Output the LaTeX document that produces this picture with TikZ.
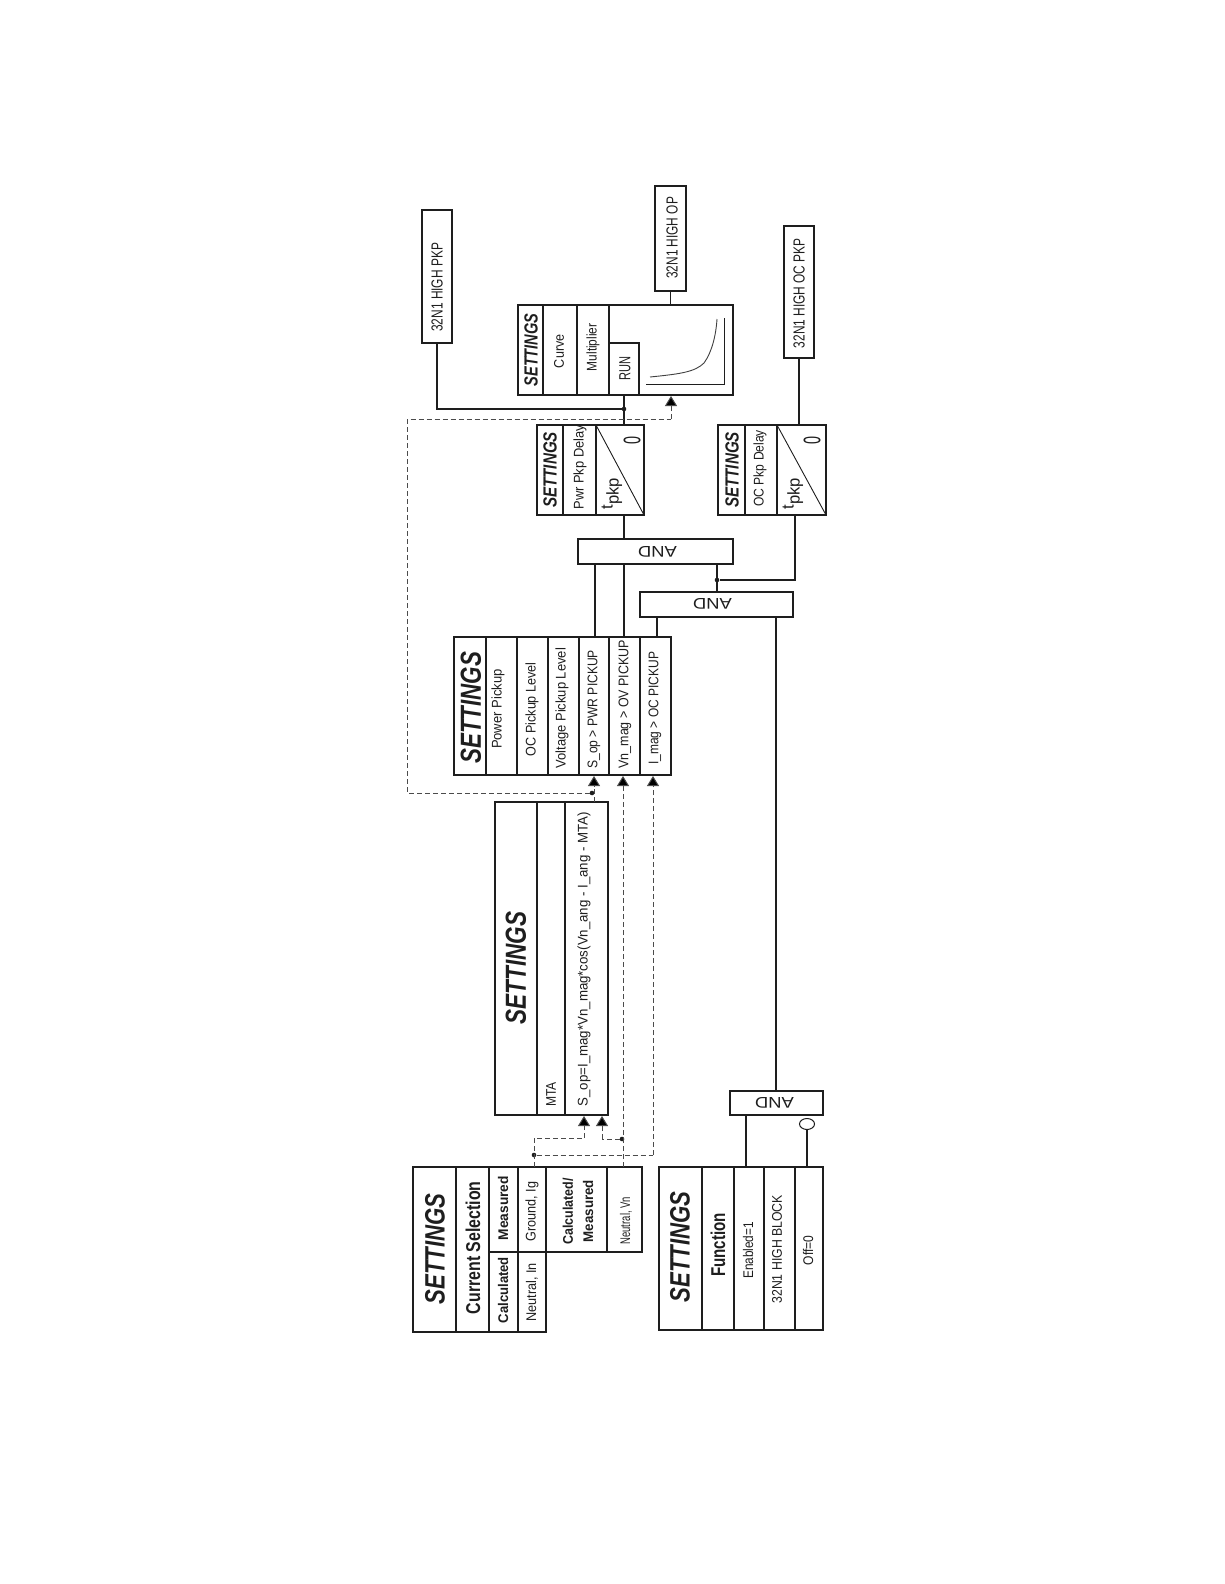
\documentclass[tikz,border=0pt]{standalone}
\usepackage{fontspec}
\setmainfont{Liberation Sans}
\usetikzlibrary{arrows.meta,shapes.geometric}
\newsavebox\txtbox
\newcounter{txtno}
\definecolor{ink}{HTML}{1E1E1E}
\tikzset{
  cellbox/.style={draw=ink,line width=1.1pt,rectangle,inner sep=0pt,outer sep=0pt,fill=white},
  txtnode/.style={inner sep=0pt,outer sep=0pt,text=ink},
  wire/.style={draw=ink,line width=1.1pt},
  dash wire/.style={draw=ink!80,line width=1pt,dash pattern=on 5pt off 3pt},
  sig/.style={dash wire,-{Triangle[width=12pt,length=10pt,fill=black]}},
  dot/.style={circle,fill=ink,inner sep=0pt,minimum size=4.6pt}
}
% box: name x1 y1 x2 y2
\newcommand\bx[5]{\node[cellbox,minimum width={(#4-#2)*1pt},minimum height={(#5-#3)*1pt}] (#1) at ({(#2+#4)/2},{(#3+#5)/2}) {};}
% text: [angle] x y size length font text
\newcommand\tx[7][90]{%
  \stepcounter{txtno}%
  \node[txtnode] (t\arabic{txtno}) at (#2,#3) {%
    \fontsize{#4}{#4}\selectfont
    \sbox\txtbox{#6 #7}%
    \pgfmathsetmacro\txtscale{#5/\wd\txtbox}%
    \rotatebox{#1}{\scalebox{\txtscale}[1]{\usebox\txtbox}}};}
\newcommand\bi{\bfseries\itshape}
\begin{document}
\begin{tikzpicture}[x=1pt,y=-1pt]
\useasboundingbox (0,0) rectangle (1224,1584);
% output boxes
\bx{outPkp}{422}{210}{452}{343}
\bx{outOp}{655}{186}{686}{291}
\bx{outOc}{784}{226}{814}{358}
\tx{437}{289}{16}{92}{}{32N1 HIGH PKP}
\tx{672}{239.5}{16}{85}{}{32N1 HIGH OP}
\tx{799}{295}{16}{113}{}{32N1 HIGH OC PKP}
% timer with curve
\bx{curveAll}{518}{305}{733}{395}
\bx{curveS}{518}{305}{543}{395}
\bx{curveC}{543}{305}{577}{395}
\bx{curveM}{577}{305}{609}{395}
\bx{curveR}{609}{343}{639}{395}
\tx{531}{352}{19}{77}{\bi}{SETTINGS}
\tx{559}{353}{14}{37}{}{Curve}
\tx{593}{349}{14}{51}{}{Multiplier}
\tx{625}{370}{16}{27}{}{RUN}
\draw[ink,line width=.9pt] (646,384) -- (724,384) -- (724,318);
\draw[ink!85,line width=.9pt] (650,377) .. controls (680,374) and (695,372) .. (704,363) .. controls (712,352) and (716,335) .. (717,319);
% pickup delays
\bx{pwrS}{537}{425}{563}{515}
\bx{pwrD}{563}{425}{596}{515}
\bx{pwrT}{596}{425}{644}{515}
\draw[ink,line width=.9pt] (pwrT.north west) -- (pwrT.south east);
\tx{550}{472}{19}{80}{\bi}{SETTINGS}
\tx{580}{469}{14}{88}{}{Pwr Pkp Delay}
\tx{632}{442}{24}{12}{}{0}
\tx{612}{496}{17}{36}{}{t\raisebox{-6pt}{pkp}}
\bx{ocS}{718}{425}{745}{515}
\bx{ocD}{745}{425}{777}{515}
\bx{ocT}{777}{425}{826}{515}
\draw[ink,line width=.9pt] (ocT.north west) -- (ocT.south east);
\tx{732}{472}{19}{80}{\bi}{SETTINGS}
\tx{760}{470}{14}{80}{}{OC Pkp Delay}
\tx{812}{442}{24}{12}{}{0}
\tx{793}{496}{17}{36}{}{t\raisebox{-6pt}{pkp}}
% AND gates
\bx{andA}{578}{539}{733}{564}
\bx{andB}{640}{592}{793}{617}
\bx{andC}{730}{1091}{823}{1115}
\tx[180]{660}{552}{15.5}{44}{}{AND}
\tx[180]{715}{604}{15.5}{44}{}{AND}
\tx[180]{777}{1103}{15.5}{44}{}{AND}
% pickup settings
\bx{puS}{454}{637}{486}{775}
\bx{puP}{486}{637}{517}{775}
\bx{puO}{517}{637}{548}{775}
\bx{puV}{548}{637}{579}{775}
\bx{puA}{579}{637}{609}{775}
\bx{puB}{609}{637}{640}{775}
\bx{puC}{640}{637}{671}{775}
\tx{471}{711}{29}{118}{\bi}{SETTINGS}
\tx{498}{711}{14}{83}{}{Power Pickup}
\tx{532}{711}{14}{97}{}{OC Pickup Level}
\tx{562}{710}{14}{124}{}{Voltage Pickup Level}
\tx{594}{711}{14}{122}{}{S\_op > PWR PICKUP}
\tx{625}{706}{14}{132}{}{Vn\_mag > OV PICKUP}
\tx{655}{710}{14}{116}{}{I\_mag > OC PICKUP}
% calculation
\bx{opS}{495}{802}{537}{1115}
\bx{opM}{537}{802}{565}{1115}
\bx{opF}{565}{802}{608}{1115}
\tx{516}{971}{29}{119}{\bi}{SETTINGS}
\tx{551}{1096}{14}{28}{}{MTA}
\tx{584}{961}{14}{298}{}{S\_op=I\_mag*Vn\_mag*cos(Vn\_ang - I\_ang - MTA)}
% source settings
\bx{srcS}{413}{1167}{456}{1332}
\bx{srcC}{456}{1167}{489}{1332}
\bx{srcM}{489}{1167}{518}{1252}
\bx{srcK}{489}{1252}{518}{1332}
\bx{srcG}{518}{1167}{546}{1252}
\bx{srcN}{518}{1252}{546}{1332}
\bx{srcX}{546}{1167}{607}{1252}
\bx{srcV}{607}{1167}{642}{1252}
\tx{435}{1252}{28}{117}{\bi}{SETTINGS}
\tx{473}{1250}{20}{137}{\bfseries}{Current Selection}
\tx{503}{1210}{14}{68}{\bfseries}{Measured}
\tx{503}{1292}{14}{70}{\bfseries}{Calculated}
\tx{532}{1213}{14}{63}{}{Ground, Ig}
\tx{532}{1294}{14}{62}{}{Neutral, In}
\tx{568}{1213}{14}{70}{\bfseries}{Calculated/}
\tx{588}{1213}{14}{66}{\bfseries}{Measured}
\tx{626}{1222}{14}{50}{}{Neutral, Vn}
% function settings
\bx{fnS}{659}{1167}{702}{1330}
\bx{fnF}{702}{1167}{734}{1330}
\bx{fnE}{734}{1167}{764}{1330}
\bx{fnB}{764}{1167}{795}{1330}
\bx{fnO}{795}{1167}{823}{1330}
\tx{680}{1250}{28}{117}{\bi}{SETTINGS}
\tx{718}{1247}{20}{68}{\bfseries}{Function}
\tx{748}{1252}{14}{60}{}{Enabled=1}
\tx{777}{1251}{14}{112}{}{32N1 HIGH BLOCK}
\tx{808}{1252}{14}{33}{}{Off=0}
\node[ellipse,draw=ink,line width=1pt,minimum width=15pt,minimum height=11pt,inner sep=0pt,outer sep=0pt] (inv) at (807,1124) {};
% junctions
\node[dot] (j1) at (624,409) {};
\node[dot] (j2) at (717,580) {};
\node[dot] (j3) at (592,793) {};
\node[dot] (j4) at (622,1139) {};
\node[dot] (j5) at (534,1155) {};
% solid wires
\draw[wire] (outPkp.south) |- (j1);
\draw[wire] (pwrT.north -| j1) -- (curveAll.south -| j1);
\draw[wire] (outOp.south) -- (curveAll.north -| outOp.south);
\draw[wire] (outOc.south) -- (ocT.north -| outOc.south);
\draw[wire] (pwrT.south -| j1) -- (andA.north -| j1);
\coordinate (ocIn) at (795,515);
\draw[wire] (ocIn) |- (j2);
\draw[wire] (andA.south -| j2) -- (andB.north -| j2);
\coordinate (pwrIn) at (595,637);
\draw[wire] (pwrIn) -- (andA.south -| pwrIn);
\draw[wire] (puB.north -| j1) -- (andA.south -| j1);
\coordinate (ocpIn) at (657,637);
\draw[wire] (ocpIn) -- (andB.south -| ocpIn);
\coordinate (blk) at (776,617);
\draw[wire] (blk) -- (andC.north -| blk);
\coordinate (enIn) at (746,1167);
\draw[wire] (enIn) -- (andC.south -| enIn);
\coordinate (offIn) at (807,1167);
\draw[wire] (offIn) -- (inv.south);
% dashed wires
\coordinate (tipCurve) at (671,396);
\coordinate (fbA) at (407,793);
\coordinate (fbB) at (407,419);
\coordinate (fbC) at (671,419);
\draw[dash wire] (j3) -- (fbA) -- (fbB) -- (fbC);
\draw[sig] (fbC) -- (tipCurve);
\coordinate (opOut) at (594,802);
\coordinate (tipS) at (594,776);
\draw[sig] (opOut) -- (tipS);
\coordinate (vnOut) at (623,1167);
\coordinate (tipV) at (623,776);
\draw[sig] (vnOut) -- (tipV);
\coordinate (tipI) at (653,776);
\coordinate (igOut) at (534,1167);
\coordinate (igTop) at (534,1138);
\coordinate (igRight) at (584,1138);
\coordinate (tipA) at (584,1116);
\coordinate (tipB) at (602,1116);
\coordinate (vnLeft) at (602,1139);
\coordinate (iCorner) at (653,1155);
\draw[dash wire] (igOut) -- (igTop) -- (igRight);
\draw[sig] (igRight) -- (tipA);
\draw[dash wire] (j4) -- (vnLeft);
\draw[sig] (vnLeft) -- (tipB);
\draw[dash wire] (j5) -- (iCorner);
\draw[sig] (iCorner) -- (tipI);
\end{tikzpicture}
\end{document}
